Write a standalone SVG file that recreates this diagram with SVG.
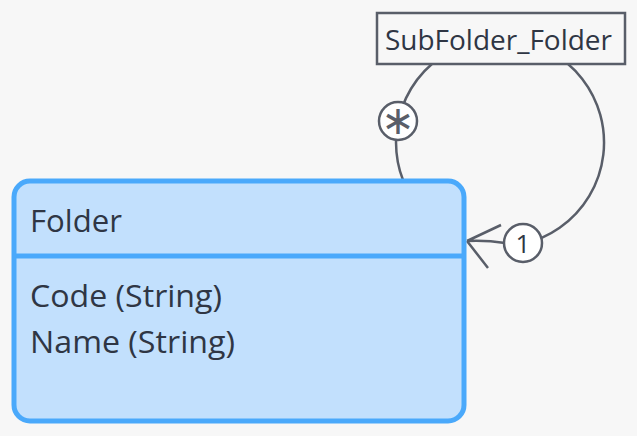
<svg xmlns="http://www.w3.org/2000/svg" width="637" height="436" viewBox="0 0 637 436">
<style>
.t{font-family:"Open Sans","Noto Sans","Liberation Sans",sans-serif;fill:#2f3644}
.c{fill:none;stroke:#595e69;stroke-width:2.5}
.m{fill:#ffffff;stroke:#595e69;stroke-width:2.5}
</style>
<rect x="0" y="0" width="637" height="436" fill="#f7f7f7"/>
<g id="connectors">
<path class="c" d="M403,180 A104,104 0 1 1 523,244"/>
<path class="c" d="M505,243 Q486,240 467,241 M467,241 L501,225 M467,241 L488,268"/>
</g>
<g id="Folder">
<rect x="14" y="181" width="450" height="240" rx="16" fill="#c2e0fd" stroke="#4aa9fb" stroke-width="5"/>
<line x1="14" y1="256" x2="464" y2="256" stroke="#4aa9fb" stroke-width="5"/>
<text class="t" x="30" y="232" font-size="31" textLength="92" lengthAdjust="spacingAndGlyphs">Folder</text>
<text class="t" x="30" y="307" font-size="31" textLength="192" lengthAdjust="spacingAndGlyphs">Code (String)</text>
<text class="t" x="30" y="353" font-size="31" textLength="205" lengthAdjust="spacingAndGlyphs">Name (String)</text>
</g>
<g id="SubFolder_Folder">
<rect x="377" y="13" width="248" height="51" fill="#f7f7f7" stroke="#595e69" stroke-width="2.5"/>
<text class="t" x="385" y="50" font-size="27" textLength="227" lengthAdjust="spacingAndGlyphs">SubFolder_Folder</text>
</g>
<g id="markers">
<circle class="m" cx="398" cy="121" r="19"/>
<text x="398" y="134" font-size="40" text-anchor="middle" font-family="DejaVu Sans, sans-serif" fill="#595e69">∗</text>
<circle class="m" cx="523" cy="243" r="19"/>
<text class="t" x="523" y="253" font-size="26" text-anchor="middle" fill="#3a404c">1</text>
</g>
</svg>
